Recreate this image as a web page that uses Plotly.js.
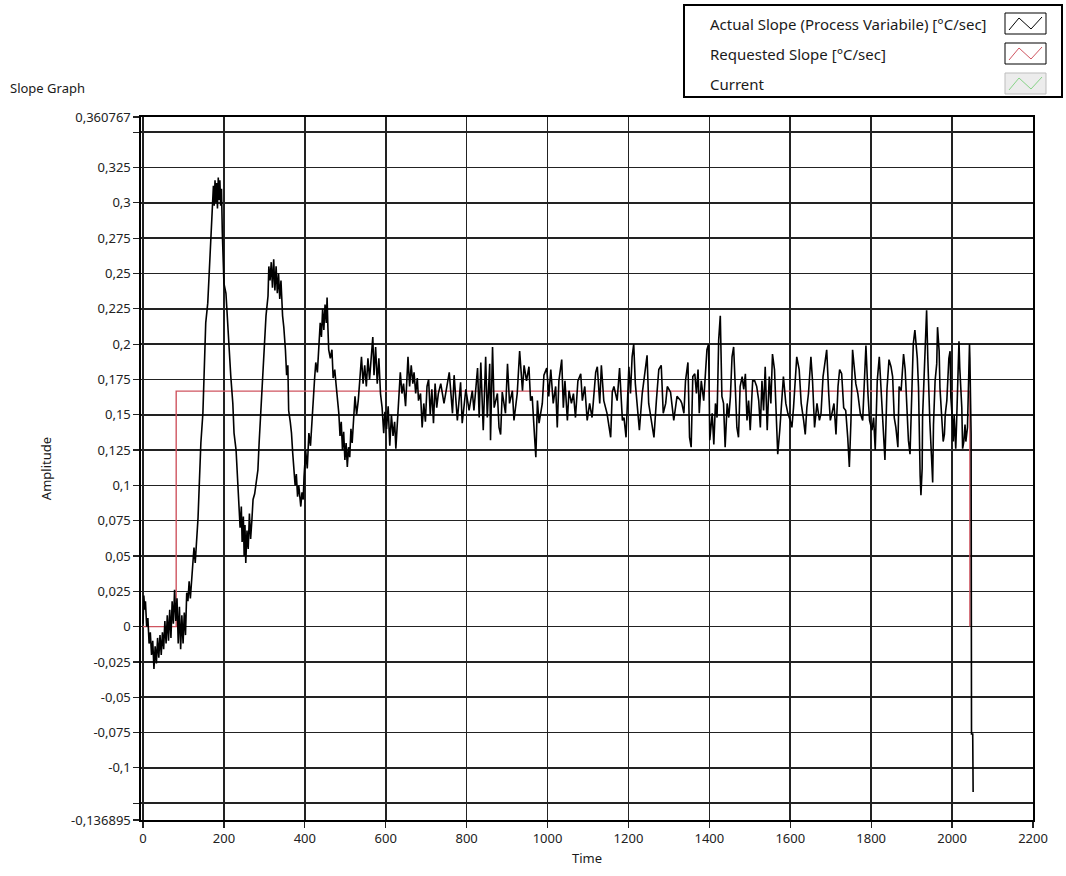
<!DOCTYPE html>
<html>
<head>
<meta charset="utf-8">
<script src="https://cdn.plot.ly/plotly-3.0.1.min.js"></script>
<style>html,body{margin:0;padding:0;background:#fff;}#chart{width:1066px;height:876px;}</style>
</head>
<body>
<div id="chart"></div>
<script>
// ---- Data ----
const timeActual = [
  0, 2, 4, 6, 9, 12, 15, 18, 21, 24,
  27, 30, 33, 36, 39, 42, 45, 48, 51, 54,
  57, 60, 63, 66, 69, 72, 75, 78, 81, 84,
  87, 90, 93, 96, 99, 102, 105, 108, 111, 114,
  117, 120, 123, 126, 129, 132, 136, 139, 143, 148,
  151, 155, 160, 164, 168, 172, 174, 176, 178, 180,
  182, 184, 186, 188, 190, 192, 194, 196, 198, 200,
  205, 209, 213, 217, 222, 225, 230, 234, 237, 240,
  243, 245, 248, 250, 252, 254, 257, 260, 263, 266,
  269, 272, 276, 279, 284, 287, 291, 296, 299, 304,
  309, 311, 314, 317, 320, 323, 326, 329, 332, 335,
  338, 341, 345, 348, 352, 355, 358, 360, 364, 367,
  370, 373, 376, 379, 382, 385, 388, 390, 393, 396,
  398, 402, 406, 410, 414, 420, 424, 427, 431, 435,
  438, 441, 444, 447, 450, 453, 455, 457, 459, 463,
  467, 470, 474, 477, 481, 484, 487, 490, 493, 496,
  499, 502, 505, 508, 511, 514, 517, 520, 524, 528,
  532, 536, 540, 544, 548, 552, 556, 560, 565, 568,
  571, 575, 579, 583, 587, 591, 595, 598, 602, 606,
  610, 614, 618, 622, 625, 629, 632, 636, 640, 644,
  649, 652, 655, 659, 663, 667, 670, 674, 678, 681,
  686, 690, 694, 698, 702, 706, 710, 714, 718, 722,
  726, 730,
  736, 744, 752, 757, 765, 769, 777, 785, 789, 798,
  806, 814, 818, 827, 831, 835, 841, 847, 851, 857,
  859, 864, 868, 876, 880, 884, 888, 896, 901, 906,
  913, 917, 925, 931, 938, 942, 948, 954, 958, 962,
  968, 971, 975, 979, 987, 991, 998, 1003, 1008, 1014,
  1020, 1024, 1028, 1035, 1039, 1043, 1049, 1053, 1059, 1064,
  1069, 1075, 1082, 1086, 1092, 1098, 1104, 1110, 1119, 1123,
  1129, 1133, 1139, 1147, 1156, 1160, 1164, 1172, 1178, 1185,
  1189, 1194, 1201, 1205, 1209, 1213, 1217, 1222, 1227, 1234,
  1240, 1246, 1250, 1256, 1263, 1269, 1275, 1281, 1286, 1292,
  1296, 1304, 1312, 1320, 1329,
  1332, 1337, 1341, 1347, 1351, 1355, 1359, 1364, 1368, 1372,
  1375, 1380, 1386, 1390, 1394, 1398, 1401, 1407, 1411, 1415,
  1419, 1423, 1427, 1431, 1435, 1439, 1444, 1448, 1452, 1456,
  1460, 1464, 1468, 1472, 1476, 1481, 1485, 1489, 1493, 1497,
  1501, 1507, 1512, 1517, 1522, 1526, 1530, 1534, 1538, 1543,
  1548, 1552, 1556, 1561, 1565, 1569, 1574, 1578, 1583, 1589,
  1594, 1600, 1604, 1608, 1612, 1616, 1622, 1627, 1633, 1637,
  1641, 1645, 1651, 1655, 1660, 1666, 1672, 1676, 1681, 1685,
  1690, 1695, 1699, 1703, 1708, 1713, 1718, 1722, 1727, 1732,
  1737, 1742, 1746, 1750, 1754, 1758, 1762, 1767, 1773, 1779,
  1783, 1787, 1792, 1796, 1802, 1806, 1810, 1815, 1820, 1825,
  1830, 1834, 1839, 1844, 1849, 1853, 1857, 1861, 1866, 1869,
  1874, 1880, 1884, 1888, 1892, 1896, 1900, 1904,
  1908, 1911, 1914, 1917, 1919, 1921, 1923, 1926, 1927, 1931,
  1934, 1937, 1940, 1943, 1945, 1949, 1952, 1954, 1958, 1962,
  1964, 1968, 1970, 1974, 1978, 1981, 1983, 1987, 1989, 1992,
  1995, 1997, 2001, 2003, 2005, 2009, 2011, 2014, 2017, 2019,
  2024, 2026, 2029, 2032, 2034, 2038, 2040, 2043, 2044, 2047,
  2048, 2051, 2052
];
const slopeActual = [
  0.002, 0.022, 0.012, 0.018, 0.0, 0.006, -0.012, -0.004, -0.02, -0.01,
  -0.03, -0.014, -0.026, -0.008, -0.022, -0.006, -0.02, -0.004, -0.016, 0.004,
  -0.012, 0.008, -0.01, 0.012, -0.008, 0.018, 0.002, 0.026, 0.004, 0.02,
  -0.012, 0.014, -0.016, 0.008, -0.012, 0.01, -0.006, 0.024, 0.018, 0.032,
  0.02, 0.03, 0.042, 0.056, 0.045, 0.058, 0.077, 0.1, 0.13, 0.151,
  0.177, 0.215, 0.229, 0.253, 0.276, 0.3, 0.312, 0.298, 0.316, 0.3,
  0.314, 0.296, 0.318, 0.302, 0.316, 0.298, 0.31, 0.279, 0.255, 0.243,
  0.236, 0.215, 0.196, 0.177, 0.158, 0.137, 0.125, 0.106, 0.087, 0.07,
  0.085, 0.06, 0.078, 0.05, 0.072, 0.045, 0.068, 0.055, 0.08, 0.062,
  0.075, 0.09, 0.094, 0.1, 0.111, 0.13, 0.153, 0.172, 0.196, 0.22,
  0.234, 0.255, 0.245, 0.258, 0.24, 0.26, 0.238, 0.255, 0.236, 0.25,
  0.232, 0.245, 0.22, 0.212, 0.196, 0.178, 0.185, 0.153, 0.145, 0.137,
  0.123, 0.113, 0.1, 0.108, 0.092, 0.1, 0.088, 0.085, 0.095, 0.09,
  0.106, 0.125, 0.112, 0.137, 0.128, 0.16, 0.175, 0.187, 0.18, 0.2,
  0.215, 0.205, 0.225, 0.21, 0.228, 0.215, 0.233, 0.212, 0.196, 0.19,
  0.196, 0.176, 0.182, 0.172, 0.16, 0.151, 0.135, 0.145, 0.125, 0.138,
  0.118, 0.13, 0.113, 0.127, 0.12, 0.14, 0.13, 0.148, 0.163, 0.15,
  0.16, 0.175, 0.191, 0.172, 0.185, 0.17, 0.19, 0.175, 0.198, 0.205,
  0.178, 0.198, 0.172, 0.19, 0.165, 0.155, 0.137, 0.152, 0.14, 0.156,
  0.128, 0.15, 0.135, 0.145, 0.126, 0.148, 0.16, 0.18, 0.165, 0.172,
  0.156, 0.18, 0.191, 0.17, 0.185, 0.172, 0.18, 0.165, 0.176, 0.16,
  0.165, 0.141, 0.158, 0.145, 0.17, 0.175, 0.15, 0.168, 0.144, 0.172,
  0.155, 0.165,
  0.172, 0.158, 0.170, 0.180, 0.151, 0.178, 0.146, 0.173, 0.144, 0.168,
  0.153, 0.167, 0.153, 0.183, 0.148, 0.187, 0.139, 0.191, 0.148, 0.186,
  0.132, 0.198, 0.155, 0.165, 0.141, 0.136, 0.166, 0.151, 0.186, 0.158,
  0.167, 0.146, 0.165, 0.195, 0.167, 0.185, 0.174, 0.184, 0.160, 0.163,
  0.134, 0.120, 0.160, 0.144, 0.158, 0.178, 0.183, 0.163, 0.182, 0.158,
  0.170, 0.141, 0.174, 0.189, 0.155, 0.174, 0.146, 0.167, 0.158, 0.165,
  0.148, 0.174, 0.179, 0.160, 0.170, 0.146, 0.158, 0.148, 0.180, 0.184,
  0.158, 0.185, 0.160, 0.151, 0.134, 0.166, 0.170, 0.160, 0.183, 0.146,
  0.148, 0.134, 0.184, 0.165, 0.191, 0.200, 0.172, 0.158, 0.139, 0.165,
  0.179, 0.192, 0.158, 0.146, 0.134, 0.160, 0.182, 0.185, 0.151, 0.158,
  0.170, 0.166, 0.146, 0.163, 0.160,
  0.158, 0.151, 0.174, 0.187, 0.134, 0.127, 0.177, 0.179, 0.165, 0.182,
  0.151, 0.174, 0.160, 0.177, 0.196, 0.200, 0.132, 0.151, 0.129, 0.158,
  0.148, 0.203, 0.220, 0.163, 0.158, 0.127, 0.158, 0.148, 0.163, 0.191,
  0.198, 0.170, 0.141, 0.134, 0.170, 0.177, 0.168, 0.179, 0.146, 0.160,
  0.139, 0.174, 0.174, 0.170, 0.160, 0.141, 0.174, 0.153, 0.184, 0.139,
  0.177, 0.158, 0.193, 0.182, 0.151, 0.122, 0.139, 0.158, 0.177, 0.158,
  0.151, 0.146, 0.141, 0.155, 0.170, 0.191, 0.182, 0.158, 0.146, 0.136,
  0.155, 0.165, 0.191, 0.174, 0.141, 0.158, 0.146, 0.151, 0.177, 0.186,
  0.196, 0.165, 0.146, 0.151, 0.158, 0.136, 0.170, 0.182, 0.179, 0.155,
  0.153, 0.134, 0.113, 0.146, 0.196, 0.184, 0.172, 0.165, 0.151, 0.146,
  0.174, 0.199, 0.165, 0.146, 0.139, 0.148, 0.125, 0.174, 0.191, 0.163,
  0.136, 0.118, 0.168, 0.189, 0.184, 0.177, 0.148, 0.141, 0.127, 0.170,
  0.167, 0.193, 0.182, 0.155, 0.132, 0.122, 0.160, 0.200,
  0.210, 0.200, 0.190, 0.169, 0.126, 0.107, 0.093, 0.112, 0.148, 0.176,
  0.200, 0.224, 0.190, 0.155, 0.145, 0.121, 0.102, 0.143, 0.174, 0.186,
  0.212, 0.195, 0.169, 0.150, 0.131, 0.136, 0.150, 0.160, 0.174, 0.190,
  0.195, 0.162, 0.145, 0.131, 0.150, 0.126, 0.143, 0.174, 0.202, 0.183,
  0.155, 0.126, 0.131, 0.143, 0.131, 0.141, 0.174, 0.200, 0.190, 0.136,
  -0.076, -0.076, -0.117
];
const timeRequested = [0, 82, 82, 2044, 2044];
const slopeRequested = [0, 0, 0.1667, 0.1667, 0];

const xTickVals = [0, 200, 400, 600, 800, 1000, 1200, 1400, 1600, 1800, 2000, 2200];
const xTickText = ['0', '200', '400', '600', '800', '1000', '1200', '1400', '1600', '1800', '2000', '2200'];
const yTickVals = [-0.136895, -0.125, -0.1, -0.075, -0.05, -0.025, 0, 0.025, 0.05, 0.075, 0.1, 0.125,
                   0.15, 0.175, 0.2, 0.225, 0.25, 0.275, 0.3, 0.325, 0.35, 0.360767];
const yTickText = ['-0,136895', '', '-0,1', '-0,075', '-0,05', '-0,025', '0', '0,025', '0,05', '0,075', '0,1', '0,125',
                   '0,15', '0,175', '0,2', '0,225', '0,25', '0,275', '0,3', '0,325', '', '0,360767'];
const seriesNames = ['Actual Slope (Process Variabile) [°C/sec]', 'Requested Slope [°C/sec]', 'Current'];
const seriesColors = ['#000000', '#cf5560', '#86d286'];

// ---- Layout helpers (pixel -> paper) ----
const PL = 141, PR = 1033, PT = 117, PB = 820;
const fx = p => (p - PL) / (PR - PL);
const fy = p => (PB - p) / (PB - PT);
const FONT = '"Noto Sans", "Open Sans", sans-serif';

const traces = [
  {x: timeRequested, y: slopeRequested, type: 'scatter', mode: 'lines', name: seriesNames[1],
   line: {color: seriesColors[1], width: 1.4}, hoverinfo: 'x+y'},
  {x: timeActual, y: slopeActual, type: 'scatter', mode: 'lines', name: seriesNames[0],
   line: {color: seriesColors[0], width: 1.6}, hoverinfo: 'x+y'}
];

const shapes = [];
const annotations = [];
// legend box
shapes.push({type: 'rect', xref: 'paper', yref: 'paper', x0: fx(684), x1: fx(1062), y0: fy(5), y1: fy(97),
  line: {color: '#000', width: 2}, fillcolor: '#fff', layer: 'above'});
const rowY = [24, 54, 84];
const boxTop = [13, 43, 73];
for (let i = 0; i < 3; i++) {
  shapes.push({type: 'rect', xref: 'paper', yref: 'paper', x0: fx(1005), x1: fx(1046), y0: fy(boxTop[i]), y1: fy(boxTop[i] + 21),
    line: {color: i === 2 ? '#bdbdbd' : '#000', width: 1}, fillcolor: i === 2 ? '#ececec' : '#fff', layer: 'above'});
  const t = boxTop[i];
  const pts = [[1009, t + 17], [1019, t + 5], [1031, t + 16], [1042, t + 4]];
  const path = 'M ' + pts.map(p => fx(p[0]) + ',' + fy(p[1])).join(' L ');
  shapes.push({type: 'path', xref: 'paper', yref: 'paper', path: path,
    line: {color: seriesColors[i], width: 1}, layer: 'above'});
  annotations.push({xref: 'paper', yref: 'paper', x: fx(708), y: fy(rowY[i]), xanchor: 'left', yanchor: 'middle',
    text: seriesNames[i], showarrow: false, font: {family: FONT, size: 15, color: '#1a1a1a'}});
}

const layout = {
  width: 1066, height: 876, autosize: false,
  paper_bgcolor: '#ffffff', plot_bgcolor: '#ffffff',
  margin: {l: PL, r: 1066 - PR, t: PT, b: 876 - PB, pad: 0},
  showlegend: false,
  font: {family: FONT, size: 13, color: '#222'},
  title: {text: 'Slope Graph', x: 10 / 1066, xanchor: 'left', xref: 'container',
          y: 1 - 88 / 876, yanchor: 'middle', yref: 'container',
          font: {family: FONT, size: 13, color: '#1a1a1a'}},
  xaxis: {
    range: [-5, 2200], tickmode: 'array', tickvals: xTickVals, ticktext: xTickText,
    showgrid: true, gridcolor: '#222', gridwidth: 1.6, zeroline: false,
    showline: true, linecolor: '#000', linewidth: 1.6, mirror: true,
    ticks: 'outside', ticklen: 6, tickcolor: '#222', tickwidth: 1.2,
    tickfont: {family: FONT, size: 13, color: '#222'},
    title: {text: 'Time', font: {family: FONT, size: 13, color: '#1a1a1a'}, standoff: 7}
  },
  yaxis: {
    range: [-0.136895, 0.360767], tickmode: 'array', tickvals: yTickVals, ticktext: yTickText,
    showgrid: true, gridcolor: '#222', gridwidth: 1.6, zeroline: false,
    showline: true, linecolor: '#000', linewidth: 1.6, mirror: true,
    ticks: 'outside', ticklen: 6, tickcolor: '#222', tickwidth: 1.2,
    tickfont: {family: FONT, size: 13, color: '#222'},
    title: {text: 'Amplitude', font: {family: FONT, size: 13, color: '#1a1a1a'}, standoff: 16}
  },
  shapes: shapes,
  annotations: annotations
};

Plotly.newPlot('chart', traces, layout, {displayModeBar: false, staticPlot: true});
</script>
</body>
</html>
